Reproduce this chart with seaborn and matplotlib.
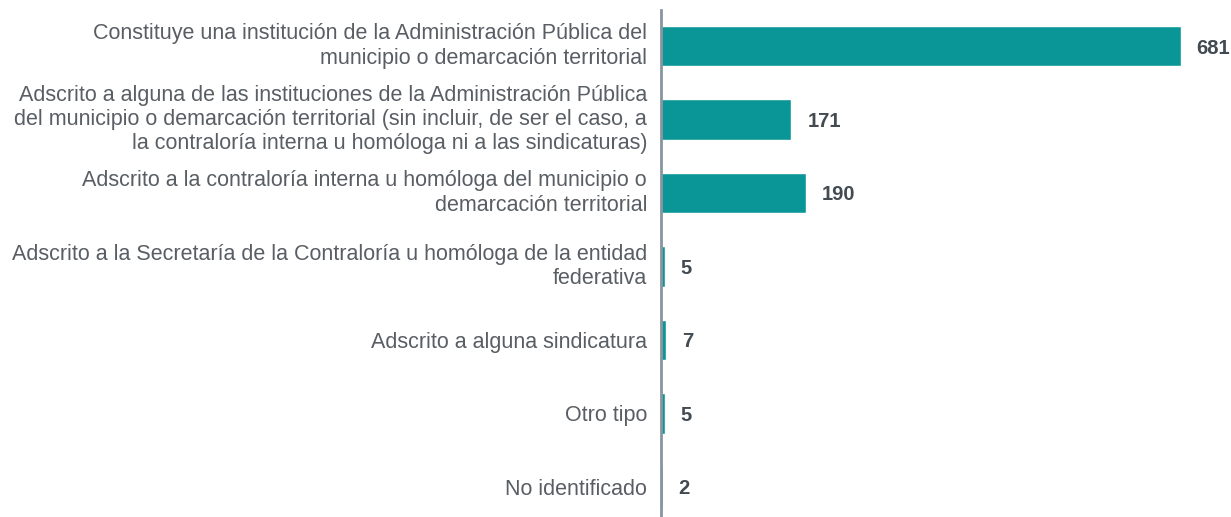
import pandas as pd
import numpy as np
import matplotlib.pyplot as plt
import seaborn as sns

categorias = [
    "Constituye una institución de la Administración Pública del\nmunicipio o demarcación territorial",
    "Adscrito a alguna de las instituciones de la Administración Pública\ndel municipio o demarcación territorial (sin incluir, de ser el caso, a\nla contraloría interna u homóloga ni a las sindicaturas)",
    "Adscrito a la contraloría interna u homóloga del municipio o\ndemarcación territorial",
    "Adscrito a la Secretaría de la Contraloría u homóloga de la entidad\nfederativa",
    "Adscrito a alguna sindicatura",
    "Otro tipo",
    "No identificado",
]
valores = [681, 171, 190, 5, 7, 5, 2]

sns.set_style("white")
plt.rcParams['font.family'] = ['Liberation Sans', 'DejaVu Sans']

df = pd.DataFrame({"categoria": categorias, "valor": valores})

fig = plt.figure(figsize=(12.31, 5.17), dpi=100)
ax = fig.add_axes([661 / 1231, 0, 1 - 661 / 1231, 507 / 517])

sns.barplot(data=df, x="valor", y="categoria", orient="h", color="#0A9696",
            width=0.55, saturation=1, ax=ax)

ax.set_xlim(0, (1231 - 661) / 0.763)
ax.set_ylim(6.41, -0.49)
ax.set_xlabel("")
ax.set_ylabel("")
ax.set_xticks([])
for s in ["top", "right", "bottom"]:
    ax.spines[s].set_visible(False)
ax.spines["left"].set_color("#8A949E")
ax.spines["left"].set_linewidth(2)
ax.tick_params(axis="y", length=0, pad=10, labelsize=15.5, labelcolor="#595e64")
for lbl in ax.get_yticklabels():
    lbl.set_horizontalalignment("right")
    lbl.set_linespacing(1.2)
    if "\n" in lbl.get_text():
        lbl.set_verticalalignment("center")

for i, v in enumerate(valores):
    ax.annotate(str(v), xy=(v, i), xytext=(11.5, 0), textcoords="offset points",
                va="center_baseline", ha="left", fontsize=14.5, fontweight="bold",
                color="#424a52")

plt.savefig("out.png", dpi=100)
